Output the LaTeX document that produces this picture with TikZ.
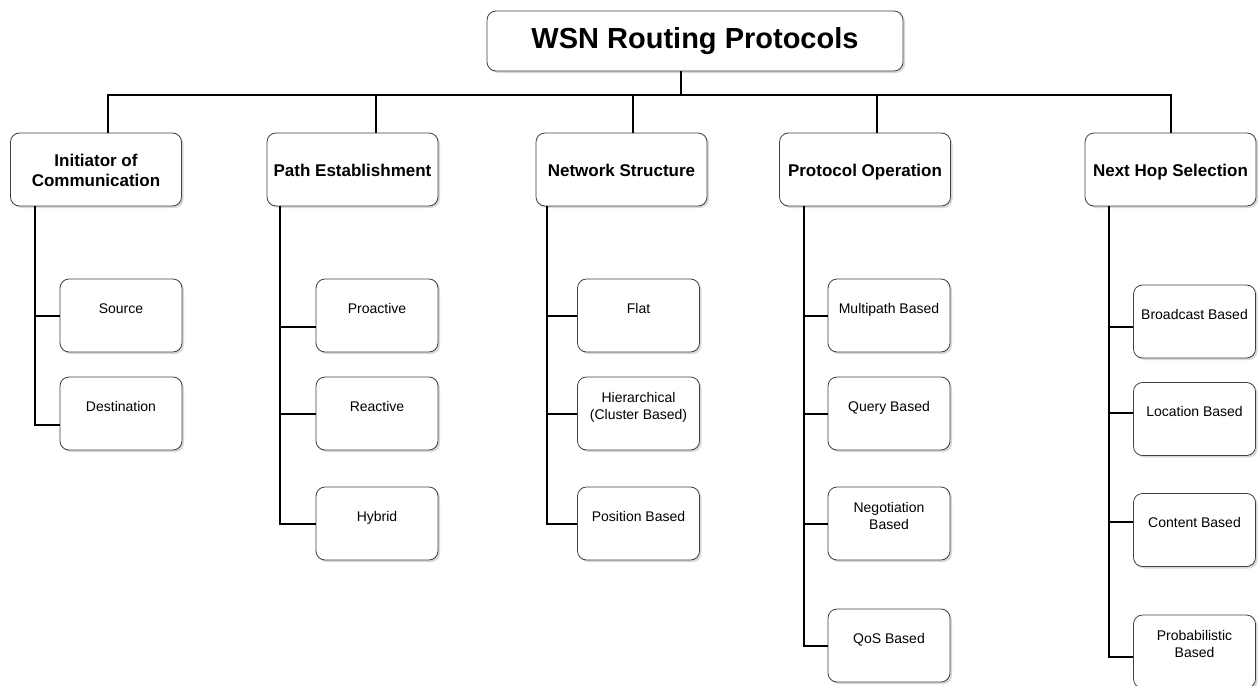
\documentclass[tikz,border=0pt]{standalone}
\usepackage{fontspec}
\setmainfont{Liberation Sans}
\usetikzlibrary{shadows}

\tikzset{
  rbox/.style={draw=black!75, line width=0.8pt, fill=white, rounded corners=9pt,
    drop shadow={shadow xshift=2pt, shadow yshift=-2pt, fill=black!30}},
  rootbox/.style={rbox, minimum width=416pt, minimum height=60pt,
    font=\fontsize{29}{34}\selectfont\bfseries},
  catbox/.style={rbox, minimum width=171pt, minimum height=73pt, align=center,
    text height=17pt, text depth=4pt,
    font=\fontsize{17}{20}\selectfont\bfseries},
  leafbox/.style={rbox, minimum width=122pt, minimum height=73pt, align=center,
    inner sep=4pt, text height=30pt, text depth=35pt,
    font=\fontsize{14}{17}\selectfont},
  leafboxb/.style={leafbox, text height=38pt, text depth=27pt},
  wire/.style={line width=2pt}
}

\begin{document}
\begin{tikzpicture}[x=1pt, y=-1pt]

    \useasboundingbox (0,0) rectangle (1260,685);

    \node[rootbox] (root) at (695,41) {WSN Routing Protocols};

    \node[catbox, text height=37pt] (ic) at (96,169.5) {Initiator of\\Communication};
    \node[catbox] (pe) at (352.5,169.5) {Path Establishment};
    \node[catbox] (ns) at (621.5,169.5) {Network Structure};
    \node[catbox] (po) at (865,169.5) {Protocol Operation};
    \node[catbox] (nh) at (1170.5,169.5) {Next Hop Selection};

    \node[leafbox] (ic1) at (121,315.5) {Source};
    \node[leafbox] (ic2) at (121,413.5) {Destination};

    \node[leafbox] (pe1) at (377,315.5) {Proactive};
    \node[leafbox] (pe2) at (377,413.5) {Reactive};
    \node[leafbox] (pe3) at (377,523.5) {Hybrid};

    \node[leafbox] (ns1) at (638.5,315.5) {Flat};
    \node[leafboxb] (ns2) at (638.5,413.5) {Hierarchical\\(Cluster Based)};
    \node[leafbox] (ns3) at (638.5,523.5) {Position Based};

    \node[leafbox] (po1) at (889,315.5) {Multipath Based};
    \node[leafbox] (po2) at (889,413.5) {Query Based};
    \node[leafboxb] (po3) at (889,523.5) {Negotiation\\Based};
    \node[leafbox] (po4) at (889,645.5) {QoS Based};

    \node[leafbox] (nh1) at (1194.5,321.5) {Broadcast Based};
    \node[leafbox] (nh2) at (1194.5,419) {Location Based};
    \node[leafbox] (nh3) at (1194.5,530) {Content Based};
    \node[leafboxb] (nh4) at (1194.5,651.5) {Probabilistic\\Based};

    \draw[wire] ([xshift=-14pt]root.south) -- ++(0,24) coordinate (bus);
    \draw[wire] ([xshift=12pt]ic.north) |- (nh.north |- bus) -- (nh.north);
    \draw[wire] ([xshift=23.5pt]pe.north) |- (bus);
    \draw[wire] ([xshift=11.5pt]ns.north) |- (bus);
    \draw[wire] ([xshift=12pt]po.north) |- (bus);

    \foreach \c/\d in {ic1/0, ic2/-11.5}
      \draw[wire] ([xshift=25pt]ic.south west) |- ([yshift=\d pt]\c.west);
    \foreach \c/\d in {pe1/-11.5, pe2/0, pe3/0}
      \draw[wire] ([xshift=13pt]pe.south west) |- ([yshift=\d pt]\c.west);
    \foreach \c in {ns1,ns2,ns3}
      \draw[wire] ([xshift=11.5pt]ns.south west) |- (\c.west);
    \foreach \c in {po1,po2,po3,po4}
      \draw[wire] ([xshift=25pt]po.south west) |- (\c.west);
    \foreach \c/\d in {nh1/-5.5, nh2/6, nh3/8, nh4/-5.5}
      \draw[wire] ([xshift=24pt]nh.south west) |- ([yshift=\d pt]\c.west);

  \end{tikzpicture}
\end{document}
